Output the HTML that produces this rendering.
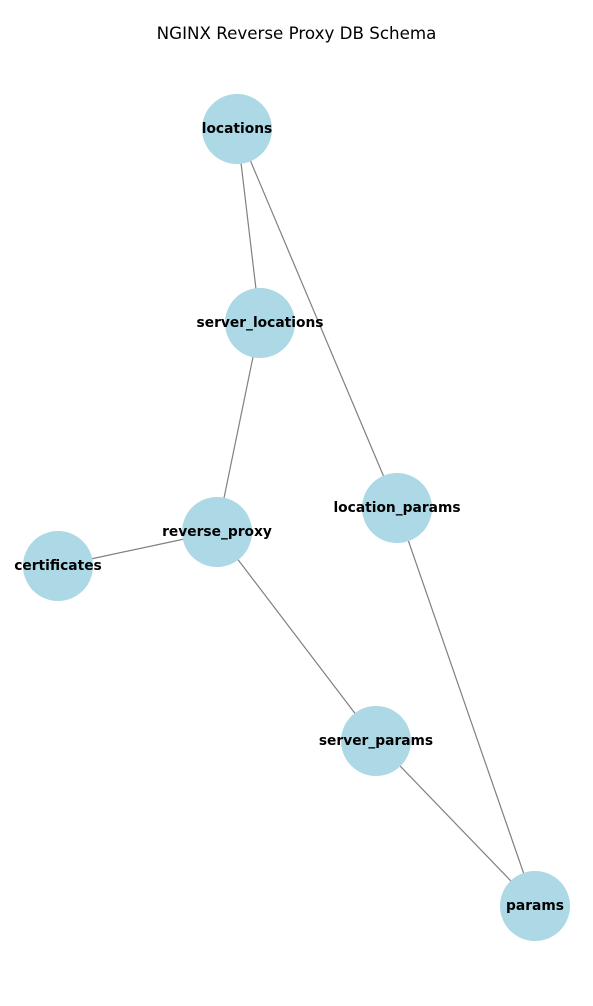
<!DOCTYPE html>
<html><head><meta charset="utf-8">
<style>
html,body{margin:0;padding:0;background:#fff;}
svg{display:block;}
</style></head>
<body>
<svg id="chart" width="593" height="1006" viewBox="0 0 593 1006" xmlns="http://www.w3.org/2000/svg">
<text x="296.5" y="39" text-anchor="middle" font-family="DejaVu Sans, Liberation Sans, sans-serif" font-size="16.7" fill="#000">NGINX Reverse Proxy DB Schema</text>
<g id="edges"></g>
<g id="nodes"></g>
</svg>
<script>
const nodeNames = ["locations","server_locations","location_params","reverse_proxy","certificates","server_params","params"];
const nodeX = [237,260,397,217,58,376,535];
const nodeY = [129,323,508,532,566,741,906];
const edgeFrom = ["locations","locations","server_locations","reverse_proxy","reverse_proxy","server_params","location_params"];
const edgeTo = ["server_locations","location_params","reverse_proxy","certificates","server_params","params","params"];

const NS = "http://www.w3.org/2000/svg";
const xOf = n => nodeX[nodeNames.indexOf(n)];
const yOf = n => nodeY[nodeNames.indexOf(n)];
const eg = document.getElementById("edges");
const ng = document.getElementById("nodes");
for (let i = 0; i < edgeFrom.length; i++) {
  const l = document.createElementNS(NS, "line");
  
  
  l.setAttribute("x1", xOf(edgeFrom[i])); l.setAttribute("y1", yOf(edgeFrom[i]));
  l.setAttribute("x2", xOf(edgeTo[i])); l.setAttribute("y2", yOf(edgeTo[i]));
  l.setAttribute("stroke", "#808080"); l.setAttribute("stroke-width", "1.2");
  eg.appendChild(l);
}
for (let i = 0; i < nodeNames.length; i++) {
  const c = document.createElementNS(NS, "circle");
  
  
  c.setAttribute("cx", nodeX[i]); c.setAttribute("cy", nodeY[i]); c.setAttribute("r", 35);
  c.setAttribute("fill", "#add8e6");
  ng.appendChild(c);
  const t = document.createElementNS(NS, "text");
  
  
  t.setAttribute("x", nodeX[i]); t.setAttribute("y", nodeY[i] + 4);
  t.setAttribute("text-anchor", "middle");
  t.setAttribute("font-family", "DejaVu Sans, Liberation Sans, sans-serif");
  t.setAttribute("font-weight", "bold"); t.setAttribute("font-size", "13.8");
  t.textContent = nodeNames[i];
  ng.appendChild(t);
}
</script>
</body></html>
